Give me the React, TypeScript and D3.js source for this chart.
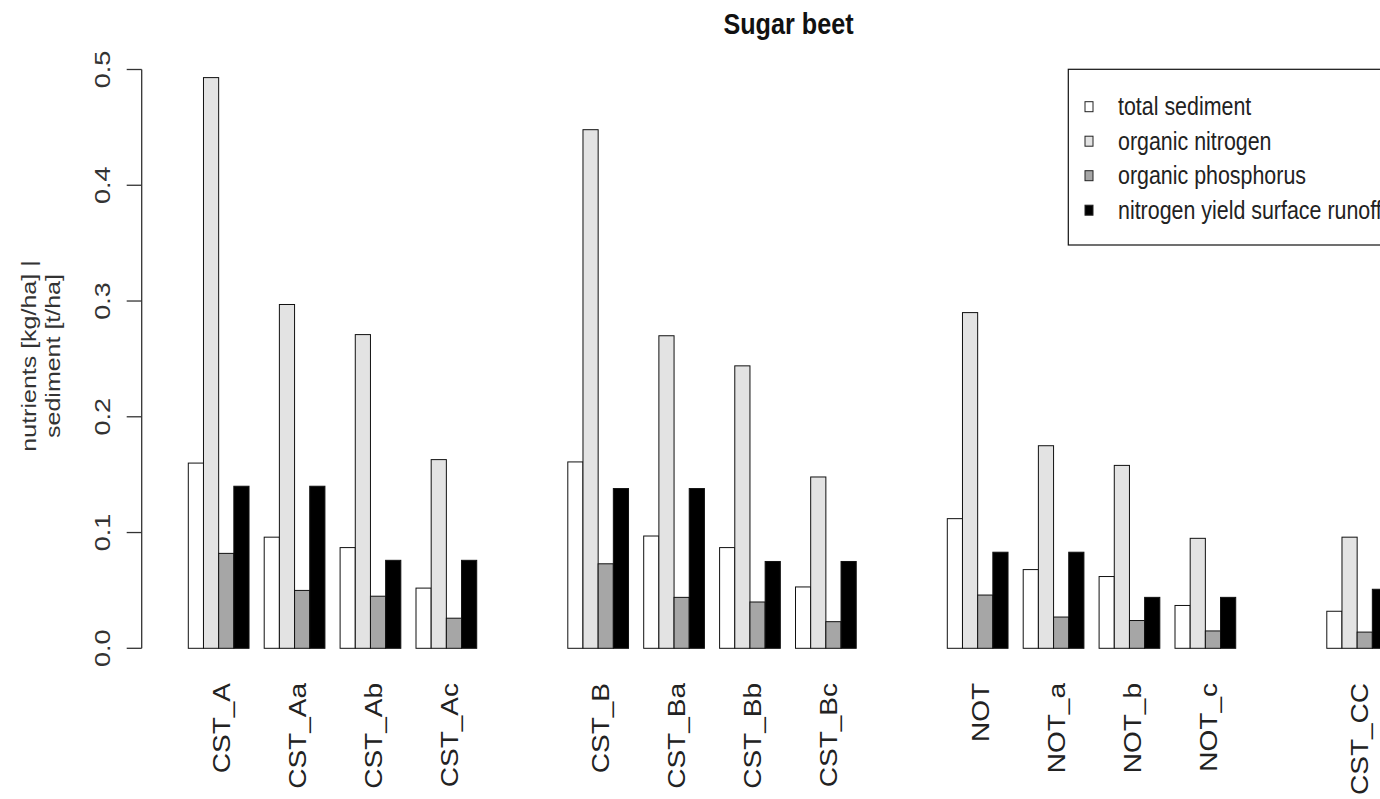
import React from "react";
import * as d3 from "d3";

// chart size = the window
const width = 1380;
const height = 799;
// the original picture is squeezed sideways, text gets the same squeeze
const squeeze = 0.84;

const title = "Sugar beet";
const yLabel1 = "nutrients [kg/ha] |";
const yLabel2 = "sediment [t/ha]";

const categories = ["CST_A", "CST_Aa", "CST_Ab", "CST_Ac", "CST_B", "CST_Ba", "CST_Bb", "CST_Bc", "NOT", "NOT_a", "NOT_b", "NOT_c", "CST_CC"];
// an empty group follows each of these
const breaksAfter = ["CST_Ac", "CST_Bc", "NOT_c"];

const seriesNames = ["total sediment", "organic nitrogen", "organic phosphorus", "nitrogen yield surface runoff"];
const seriesColors = ["#ffffff", "#e3e3e3", "#a6a6a6", "#000000"];

const totalSediment = [0.160, 0.096, 0.087, 0.052, 0.161, 0.097, 0.087, 0.053, 0.112, 0.068, 0.062, 0.037, 0.032];
const organicNitrogen = [0.493, 0.297, 0.271, 0.163, 0.448, 0.270, 0.244, 0.148, 0.290, 0.175, 0.158, 0.095, 0.096];
const organicPhosphorus = [0.082, 0.050, 0.045, 0.026, 0.073, 0.044, 0.040, 0.023, 0.046, 0.027, 0.024, 0.015, 0.014];
const nitrogenYield = [0.140, 0.140, 0.076, 0.076, 0.138, 0.138, 0.075, 0.075, 0.083, 0.083, 0.044, 0.044, 0.051];

const yTicks = [0, 0.1, 0.2, 0.3, 0.4, 0.5];

export default function App() {
  const series = [totalSediment, organicNitrogen, organicPhosphorus, nitrogenYield];

  // slot of each group, counting the empty ones
  let s = 0;
  const slots = categories.map((c) => {
    const cur = s;
    s += breaksAfter.includes(c) ? 2 : 1;
    return cur;
  });

  const xSlot = d3.scaleLinear().domain([0, 15]).range([188.3, 188.3 + 15 * 75.9]);
  const barW = (xSlot(1) - xSlot(0)) / 5;
  const xInner = d3.scaleBand<number>().domain(d3.range(series.length)).range([0, barW * series.length]).padding(0);
  const y = d3.scaleLinear().domain([0, 0.5]).range([648.3, 69.5]);
  const fmt = d3.format(".1f");

  const axisX = 141.7;
  const font = "'Liberation Sans', Arial, Helvetica, sans-serif";

  const bars = categories.map((c, i) =>
    series.map((vals, k) => (
      <rect
        key={c + k}
        x={xSlot(slots[i]) + (xInner(k) as number)}
        y={y(vals[i])}
        width={xInner.bandwidth()}
        height={y(0) - y(vals[i])}
        fill={seriesColors[k]}
        stroke="#111"
        strokeWidth={1}
      />
    ))
  );

  const legendTop = 106.7;
  const legendStep = 34.5;

  return (
    <svg width={width} height={height} style={{ position: "absolute", left: 0, top: 0, background: "#fff" }} fontFamily={font}>
      <rect width={width} height={height} fill="#fff" />

      {/* title */}
      <text transform={`translate(788.5,34) scale(${squeeze},1)`} textAnchor="middle" fontSize={30} fontWeight="bold" fill="#111">
        {title}
      </text>

      {/* y axis */}
      <line x1={axisX} x2={axisX} y1={y(0)} y2={y(0.5)} stroke="#333" strokeWidth={1.3} />
      {yTicks.map((t) => (
        <g key={t}>
          <line x1={axisX - 15} x2={axisX} y1={y(t)} y2={y(t)} stroke="#333" strokeWidth={1.3} />
          <text
            transform={`translate(101.5,${y(t)}) scale(${squeeze},1) rotate(-90)`}
            textAnchor="middle"
            dominantBaseline="central"
            fontSize={27}
            fill="#333"
          >
            {fmt(t)}
          </text>
        </g>
      ))}
      <text transform={`translate(36,356) scale(${squeeze},1) rotate(-90)`} textAnchor="middle" fontSize={25} fill="#333">
        {yLabel1}
      </text>
      <text transform={`translate(60,356) scale(${squeeze},1) rotate(-90)`} textAnchor="middle" fontSize={25} fill="#333">
        {yLabel2}
      </text>

      {/* bars */}
      <g>{bars}</g>

      {/* group names */}
      {categories.map((c, i) => (
        <text
          key={c}
          transform={`translate(${xSlot(slots[i]) + 2 * barW + 3},683) scale(${squeeze},1) rotate(-90)`}
          textAnchor="end"
          dominantBaseline="central"
          fontSize={28}
          fill="#222"
        >
          {c}
        </text>
      ))}

      {/* legend */}
      <rect x={1068.3} y={69.3} width={400} height={175.7} fill="#fff" stroke="#111" strokeWidth={1.2} />
      {seriesNames.map((n, k) => (
        <g key={n}>
          <rect
            x={1085}
            y={legendTop + k * legendStep - 5}
            width={8}
            height={10}
            fill={seriesColors[k]}
            stroke="#222"
            strokeWidth={1}
          />
          <text
            transform={`translate(1118,${legendTop + k * legendStep}) scale(${squeeze},1)`}
            dominantBaseline="central"
            fontSize={25.5}
            fill="#222"
          >
            {n}
          </text>
        </g>
      ))}
    </svg>
  );
}
